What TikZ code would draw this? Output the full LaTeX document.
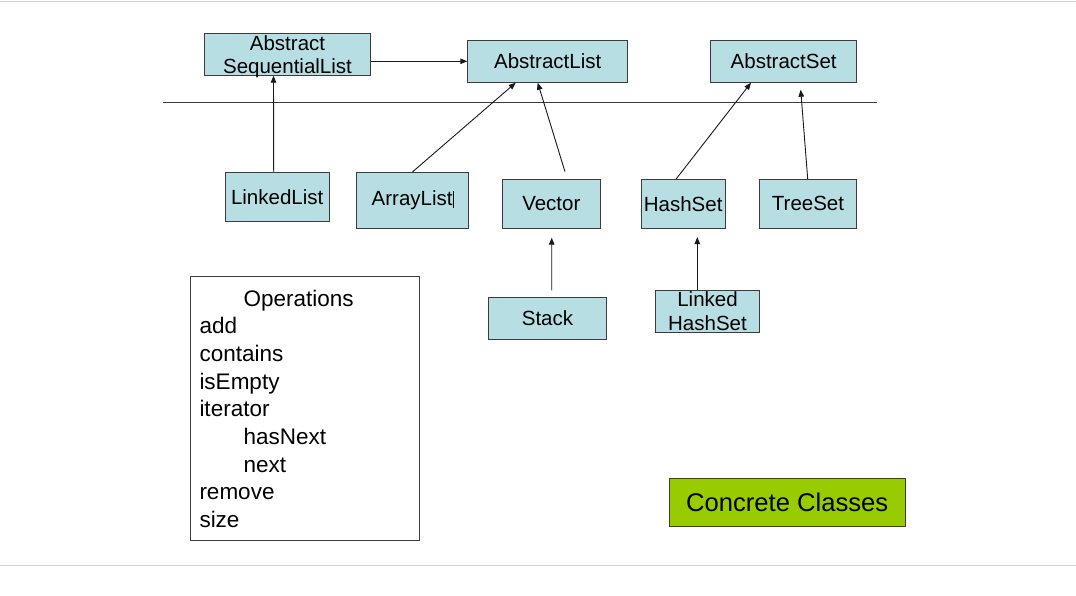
\documentclass[tikz,border=0pt]{standalone}
\usepackage{fontspec}
\setmainfont{Liberation Sans}
\usetikzlibrary{arrows.meta}
\definecolor{boxblue}{RGB}{183,222,226}
\definecolor{lime}{RGB}{153,204,0}
\definecolor{edge}{RGB}{60,60,60}
\tikzset{
  cls/.style={draw=edge, fill=boxblue, line width=0.8pt, rectangle, inner sep=0pt,
    align=center, font=\fontsize{20.5}{23.3}\selectfont, text=black},
  arr/.style={-{Triangle[length=7pt,width=5.5pt]}, line width=0.9pt, draw=black!90},
  opsline/.style={anchor=base west, inner sep=0pt, font=\fontsize{22.5}{27}\selectfont, text=black}
}
\begin{document}
\begin{tikzpicture}[x=1pt,y=-1pt]
\useasboundingbox (0,0) rectangle (1076,595);
\fill[white] (0,0) rectangle (1076,595);
% thin gray frame lines
\draw[black!18, line width=1pt] (0,1.5) -- (1076,1.5);
\draw[black!18, line width=1pt] (0,565.5) -- (1076,565.5);
% separator
\draw[edge, line width=0.8pt] (163,102.7) -- (877,102.7);

\node[cls, minimum width=166.4pt, minimum height=42pt, text depth=0pt] (asl) at (287.5,54.3) {Abstract\\SequentialList};
\node[cls, minimum width=160pt, minimum height=42pt] (alist) at (547.7,61.3) {AbstractList};
\node[cls, minimum width=146pt, minimum height=42pt] (aset) at (783.7,61.3) {AbstractSet};
\node[cls, minimum width=104.3pt, minimum height=49pt] (linkedlist) at (277.2,196.8) {LinkedList};
\node[cls, minimum width=111.6pt, minimum height=56pt] (arraylist) at (412.5,200.3) {ArrayList\rule[-2.5pt]{0.7pt}{17pt}};
\node[cls, minimum width=97.3pt, minimum height=49pt] (vector) at (551.35,203.8) {Vector};
\node[cls, minimum width=83.7pt, minimum height=49pt] (hashset) at (683.2,203.8) {HashSet};
\node[cls, minimum width=97.4pt, minimum height=49pt] (treeset) at (808,203.8) {TreeSet};
\node[cls, minimum width=118.4pt, minimum height=42pt] (stack) at (547.5,318.3) {Stack};
\node[cls, minimum width=103.6pt, minimum height=42.3pt] (lhs) at (707.5,311.2) {Linked\\HashSet};

\node[draw=edge, line width=0.7pt, fill=white, rectangle, inner sep=0pt,
  minimum width=228.6pt, minimum height=264pt] (ops) at (305,408) {};
\node[opsline] (opstitle) at (243.3,306) {Operations};
\node[opsline] (opadd) at (199.3,333.5) {add};
\node[opsline] (opcontains) at (199.3,361) {contains};
\node[opsline] (opisempty) at (199.3,389) {isEmpty};
\node[opsline] (opiterator) at (199.3,416.5) {iterator};
\node[opsline] (ophasnext) at (243.3,444) {hasNext};
\node[opsline] (opnext) at (243.3,472) {next};
\node[opsline] (opremove) at (199.3,499.5) {remove};
\node[opsline] (opsize) at (199.3,527) {size};

\node[draw=edge, fill=lime, line width=0.8pt, rectangle, inner sep=0pt,
  minimum width=236.3pt, minimum height=48pt, font=\fontsize{25.6}{30}\selectfont, text=black]
  (concrete) at (787.2,502) {Concrete Classes};

% connectors
\draw[arr] ([xshift=-3.5pt]linkedlist.north) -- ([xshift=-14pt]asl.south);
\draw[arr] (asl.east |- alist.west) -- (alist.west);
\draw[arr] (arraylist.north) -- ([xshift=-32pt]alist.south);
\draw[arr] ([xshift=13.6pt,yshift=7.3pt]vector.north) -- ([xshift=-10pt]alist.south);
\draw[arr] ([xshift=-7pt]hashset.north) -- ([xshift=-32.7pt]aset.south);
\draw[arr] ([xshift=-0.3pt]treeset.north) -- ([xshift=17pt,yshift=-7pt]aset.south);
\draw[arr] ([xshift=4.2pt,yshift=6.6pt]stack.north) -- ([xshift=0.35pt,yshift=-9pt]vector.south);
\draw[arr] ([xshift=-10.2pt]lhs.north) -- ([xshift=14.1pt,yshift=-8.4pt]hashset.south);
\end{tikzpicture}
\end{document}
